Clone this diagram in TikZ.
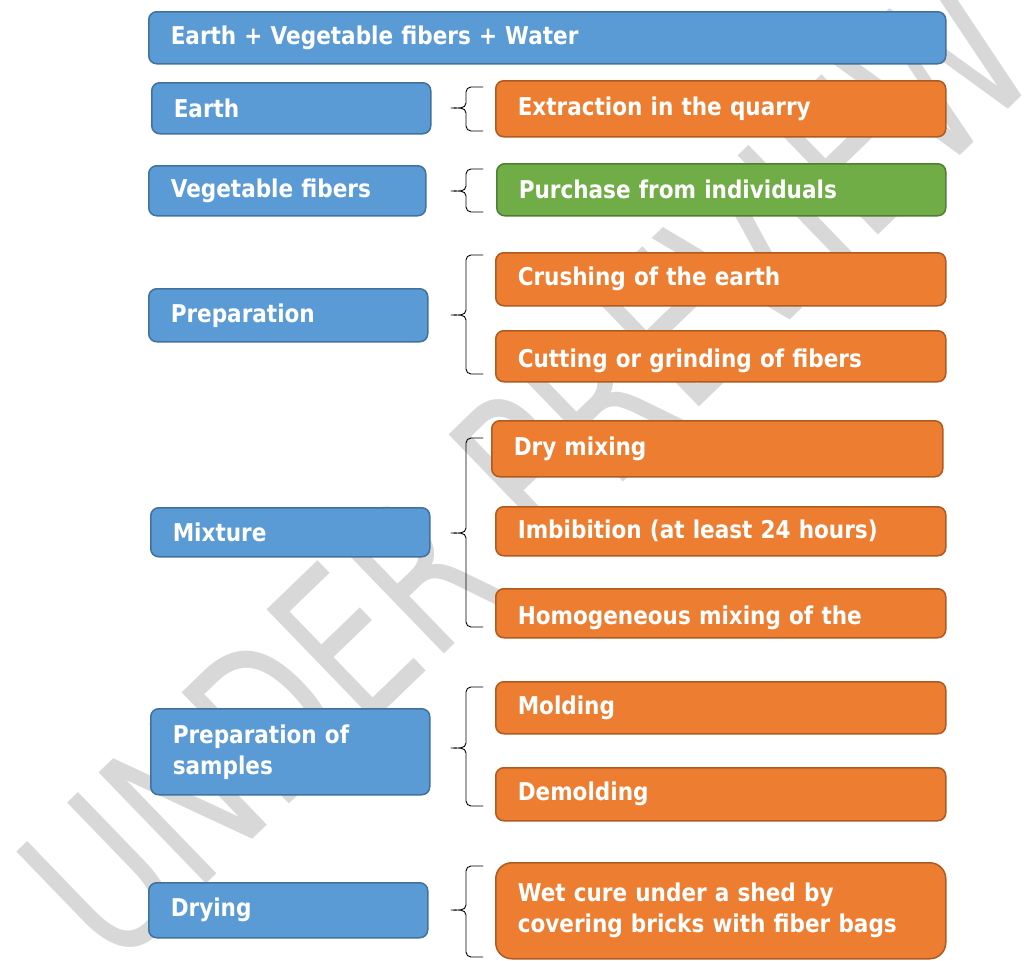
\documentclass[tikz,border=0pt]{standalone}
\usepackage{fontspec}
\usepackage{xcolor}
\usepackage{tikz}
\newfontfamily\boxfont{DejaVu Sans}[FakeStretch=0.88]
\newfontfamily\markfont{DejaVu Sans}
\definecolor{bluefill}{HTML}{5B9BD5}
\definecolor{blueline}{HTML}{41719C}
\definecolor{orangefill}{HTML}{ED7D31}
\definecolor{orangeline}{HTML}{AE5A21}
\definecolor{greenfill}{HTML}{70AD47}
\definecolor{greenline}{HTML}{507E32}
\definecolor{wmark}{HTML}{D8D8D8}
\tikzset{
  card/.style={rounded corners=8pt, line width=1.5pt, anchor=north west, text=white,
    inner xsep=22pt, inner ysep=0pt, align=left,
    font=\boxfont\bfseries\fontsize{24.5}{31}\selectfont},
  stagebox/.style={card, fill=bluefill, draw=blueline, minimum width=279pt, text width=235pt},
  taskbox/.style={card, fill=orangefill, draw=orangeline, minimum width=450pt, text width=406pt},
  buybox/.style={card, fill=greenfill, draw=greenline, minimum width=449pt, text width=405pt},
  brk/.style={draw=black, line width=0.9pt, line cap=round, line join=round},
  wm/.style={text=wmark, font=\markfont\fontsize{212}{212}\selectfont},
}
% curly bracket: top, tip, bottom
\newcommand{\curly}[3]{%
  \draw[brk] (483,#1) -- (471,#1) to[out=180,in=90] (466,#1+5) -- (466,#2-5)
    to[out=-90,in=0] (451,#2) to[out=0,in=90] (466,#2+5) -- (466,#3-5)
    to[out=-90,in=180] (471,#3) -- (483,#3);}
% text set lower in its box
\newcommand{\low}[1]{\raisebox{-5pt}[\height][\depth]{#1}}

\begin{document}
\begin{tikzpicture}[x=1pt,y=-1pt]
  \clip (0,0) rectangle (1031,961);

  % watermark
  \node[wm, rotate=44] (stamp) at (528,468) {\scalebox{0.725}[1]{UNDER PREVIEW}};

  \node[stagebox, minimum width=797pt, text width=753pt, minimum height=52pt] (base) at (148,11) {Earth + Vegetable fibers + Water};

  \node[stagebox, minimum height=51pt] (earth) at (151,82) {Earth};
  \node[taskbox, minimum height=56pt] (quarry) at (495,80) {Extraction in the quarry};
  \curly{87}{108}{131}

  \node[stagebox, minimum width=277pt, text width=233pt, minimum height=50pt] (fibers) at (148,165) {Vegetable fibers};
  \node[buybox, minimum height=52pt] (buy) at (496,163) {Purchase from individuals};
  \curly{169}{191}{212}

  \node[stagebox, minimum height=53pt] (prep) at (148,288) {Preparation};
  \node[taskbox, minimum height=53pt] (crush) at (495,252) {Crushing of the earth};
  \node[taskbox, minimum height=51pt] (cut) at (495,330) {\low{Cutting or grinding of fibers}};
  \curly{255}{315}{374}

  \node[stagebox, minimum height=49pt] (mix) at (150,507) {Mixture};
  \node[taskbox, minimum width=451pt, text width=407pt, minimum height=56pt] (drymix) at (491,420) {Dry mixing};
  \node[taskbox, minimum height=49pt] (imbib) at (495,506) {Imbibition (at least 24 hours)};
  \node[taskbox, minimum height=49pt] (homog) at (495,588) {\low{Homogeneous mixing of the}};
  \curly{438}{533}{627}

  \node[stagebox, minimum height=86pt] (samples) at (150,708) {Preparation of\\samples};
  \node[taskbox, minimum height=52pt] (mold) at (495,681) {Molding};
  \node[taskbox, minimum height=53pt] (demold) at (495,767) {Demolding};
  \curly{687}{748}{806}

  \node[stagebox, minimum height=55pt] (drying) at (148,882) {Drying};
  \node[taskbox, rounded corners=16pt, minimum height=96pt] (wetcure) at (495,862) {Wet cure under a shed by\\covering bricks with fiber bags};
  \curly{866}{910}{957}
\end{tikzpicture}
\end{document}
